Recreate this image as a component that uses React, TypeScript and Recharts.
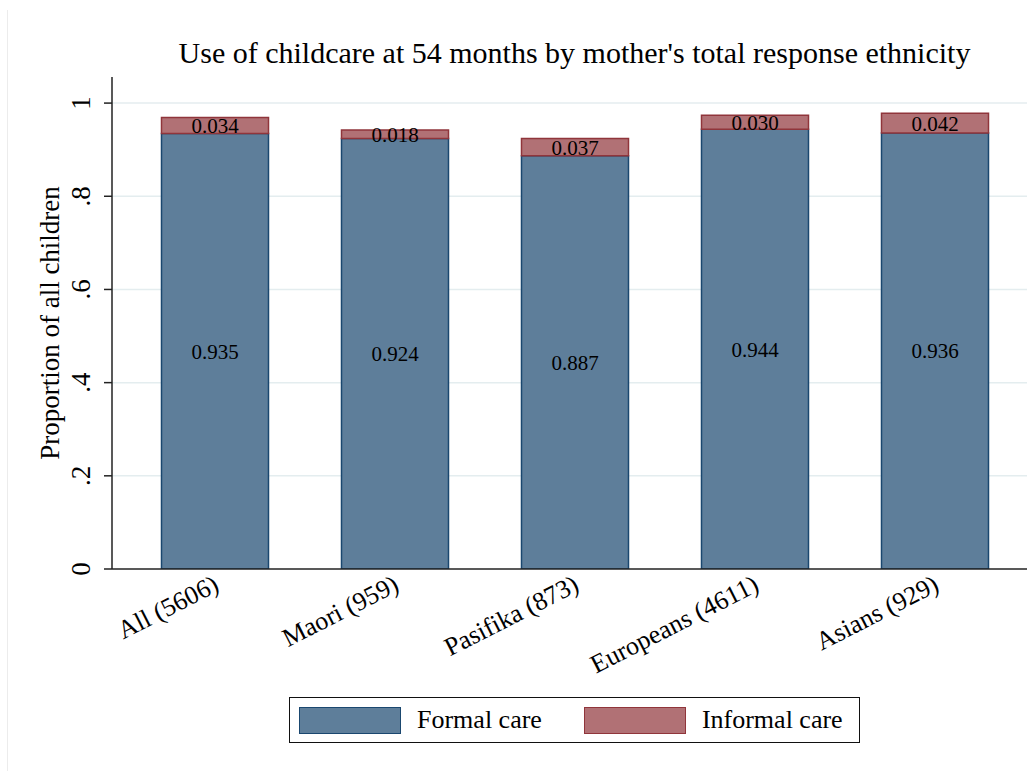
import React from "react";
import { BarChart, Bar, XAxis, YAxis, CartesianGrid, LabelList, Legend } from "recharts";

const categories = ["All (5606)", "Maori (959)", "Pasifika (873)", "Europeans (4611)", "Asians (929)"];
const formalCare = [0.935, 0.924, 0.887, 0.944, 0.936];
const informalCare = [0.034, 0.018, 0.037, 0.03, 0.042];
const yTicks = [0, 0.2, 0.4, 0.6, 0.8, 1];
const yTickLabels = ["0", ".2", ".4", ".6", ".8", "1"];
const seriesNames = ["Formal care", "Informal care"];
const title = "Use of childcare at 54 months by mother's total response ethnicity";
const yTitle = "Proportion of all children";

const data = categories.map((c, i) => ({ name: c, formal: formalCare[i], informal: informalCare[i] }));

const FONT = "'Liberation Serif', 'Times New Roman', serif";
const BLUE = "#5e7e9a";
const BLUE_STROKE = "#1a476f";
const RED = "#b17175";
const RED_STROKE = "#90353b";

const XTick = (props: any) => {
  const { x, y, payload } = props;
  const bx = x + 6;
  const by = y + 21;
  return (
    <text x={bx} y={by} transform={`rotate(-27, ${bx}, ${by})`} textAnchor="end" fontFamily={FONT} fontSize={26} fill="#000">
      {payload.value}
    </text>
  );
};

const YTick = (props: any) => {
  const { x, y, payload } = props;
  const idx = yTicks.indexOf(payload.value);
  const label = idx >= 0 ? yTickLabels[idx] : String(payload.value);
  return (
    <text x={x} y={y} transform={`rotate(-90, ${x}, ${y})`} textAnchor="middle" fontFamily={FONT} fontSize={27} fill="#000">
      {label}
    </text>
  );
};

const YLabel = (props: any) => {
  const vb = props.viewBox || { x: 12, y: 77, width: 100, height: 492 };
  const x = vb.x + 47;
  const y = vb.y + vb.height / 2;
  return (
    <text x={x} y={y} transform={`rotate(-90, ${x}, ${y})`} textAnchor="middle" fontFamily={FONT} fontSize={27} fill="#000">
      {yTitle}
    </text>
  );
};

const LegendContent = (props: any) => {
  const payload = props.payload || [];
  const styles = [
    { fill: BLUE, stroke: BLUE_STROKE },
    { fill: RED, stroke: RED_STROKE },
  ];
  return (
    <div
      style={{
        width: 571,
        height: 46,
        boxSizing: "border-box",
        border: "1.5px solid #111",
        background: "#fff",
        display: "flex",
        alignItems: "center",
        fontFamily: FONT,
        fontSize: 26,
        color: "#000",
      }}
    >
      {payload.map((p: any, i: number) => (
        <div key={i} style={{ display: "flex", alignItems: "center", marginLeft: i === 0 ? 9 : 42 }}>
          <div
            style={{
              width: 102,
              height: 27,
              boxSizing: "border-box",
              background: styles[i].fill,
              border: `1.5px solid ${styles[i].stroke}`,
            }}
          />
          <span style={{ marginLeft: 16 }}>{seriesNames[i]}</span>
        </div>
      ))}
    </div>
  );
};

export default function App() {
  return (
    <div style={{ position: "absolute", left: 0, top: 0, width: 1027, height: 771, background: "#fff", overflow: "hidden" }}>
      <div style={{ position: "absolute", left: 7, top: 10, width: 0, height: 761, borderLeft: "1.5px solid #ececec" }} />
      <div
        style={{
          position: "absolute",
          left: 112,
          width: 925,
          top: 38,
          textAlign: "center",
          fontFamily: FONT,
          fontSize: 30,
          lineHeight: "30px",
          color: "#000",
          whiteSpace: "nowrap",
        }}
      >
        {title}
      </div>
      <div style={{ position: "absolute", left: 0, top: 0 }}>
        <BarChart
          width={1027}
          height={771}
          data={data}
          margin={{ top: 77, right: 0, left: 12, bottom: 0 }}
          barSize={107}
        >
          <CartesianGrid vertical={false} stroke="#e4edef" strokeWidth={1.5} horizontalValues={[0.2, 0.4, 0.6, 0.8, 1]} />
          <XAxis
            dataKey="name"
            tick={<XTick />}
            tickLine={false}
            tickSize={0}
            tickMargin={0}
            interval={0}
            padding={{ left: 12.5, right: 2.5 }}
            axisLine={{ stroke: "#222", strokeWidth: 1.5 }}
            height={202}
          />
          <YAxis
            width={100}
            domain={[0, 1.056]}
            ticks={yTicks}
            tick={<YTick />}
            tickSize={8}
            tickMargin={14}
            tickLine={{ stroke: "#222", strokeWidth: 1.5 }}
            axisLine={{ stroke: "#222", strokeWidth: 1.5 }}
            allowDataOverflow
            label={<YLabel />}
          />
          <Legend
            layout="horizontal"
            verticalAlign="middle"
            align="center"
            content={<LegendContent />}
            wrapperStyle={{ position: "absolute", left: 289, top: 697, width: 571, height: 46 }}
          />
          <Bar dataKey="formal" name={seriesNames[0]} stackId="a" fill={BLUE} stroke={BLUE_STROKE} strokeWidth={1.5} isAnimationActive={false}>
            <LabelList dataKey="formal" position="center" formatter={(v: any) => Number(v).toFixed(3)} fill="#000" fontFamily={FONT} fontSize={21} />
          </Bar>
          <Bar dataKey="informal" name={seriesNames[1]} stackId="a" fill={RED} stroke={RED_STROKE} strokeWidth={1.5} isAnimationActive={false}>
            <LabelList dataKey="informal" position="center" formatter={(v: any) => Number(v).toFixed(3)} fill="#000" fontFamily={FONT} fontSize={21} />
          </Bar>
        </BarChart>
      </div>
    </div>
  );
}
